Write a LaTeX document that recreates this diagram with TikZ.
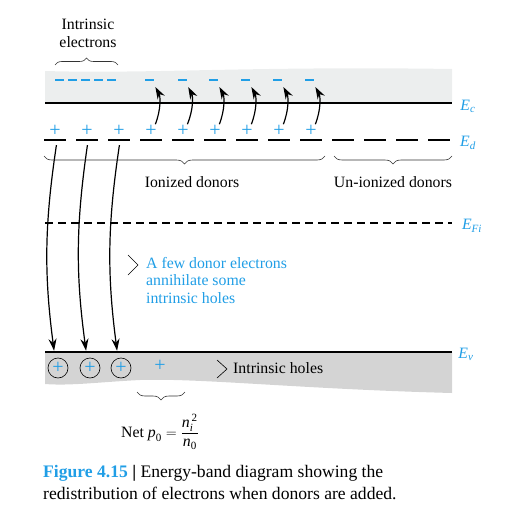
\documentclass[tikz,border=0pt]{standalone}
\usepackage{amsmath}
\usepackage{fontspec}
\setmainfont{Liberation Serif}
\usetikzlibrary{arrows.meta,decorations.pathreplacing,calc}
\definecolor{figblue}{RGB}{32,158,230}
\definecolor{cbgray}{RGB}{236,238,238}
\definecolor{vbgray}{RGB}{212,212,212}
\tikzset{
  lvl/.style={fill=black,inner sep=0pt,minimum width=22pt,minimum height=2pt},
  don/.style={text=figblue,inner sep=0pt,font=\fontsize{20}{22}\selectfont},
  elec/.style={fill=figblue,inner sep=0pt,minimum width=9pt,minimum height=1.4pt},
  hole/.style={circle,draw=black,line width=0.6pt,minimum size=20pt,inner sep=0pt,
    text=figblue,font=\fontsize{20}{22}\selectfont},
  jump/.style={line width=1.2pt,-{Stealth[length=12pt,width=8pt]}},
  brc/.style={decorate,decoration={brace,amplitude=8pt},line width=0.6pt,draw=black!80},
  lbl/.style={inner sep=0pt,font=\fontsize{15.8}{18}\selectfont},
  en/.style={text=figblue,inner sep=0pt,font=\fontsize{15.8}{18}\selectfont},
}
\newcommand{\iv}[1]{\textit{#1}}

\begin{document}
\begin{tikzpicture}[x=1pt,y=-1pt]
\useasboundingbox (0,0) rectangle (522,532);
% bands
\fill[cbgray] (45,71) .. controls (150,74) and (250,66) .. (452,69) -- (452,103) -- (45,103) -- cycle;
\fill[vbgray] (45,352) -- (452,352) -- (452,393) .. controls (300,389) and (200,378) .. (140,380)
  .. controls (100,382) and (70,386) .. (45,384) -- cycle;
\draw[line width=2pt] (45,103) -- (452,103);
\draw[line width=2pt] (45,352) -- (452,352);
\draw[line width=1.8pt,dash pattern=on 8pt off 5pt] (45,223) -- (452,223);

\node[en] (ec) at (468,106) {$\iv{E}_{\iv{c}}$};
\node[en] (ed) at (468,143) {$\iv{E}_{\iv{d}}$};
\node[en] (efi) at (472,226) {$\iv{E}_{\iv{Fi}}$};
\node[en] (ev) at (466,354) {$\iv{E}_{\iv{v}}$};

% donor level
\node[lvl] (e1) at (55,140) {};
\node[lvl] (e2) at (87,140) {};
\node[lvl] (e3) at (119,140) {};
\node[lvl] (e4) at (151,140) {};
\node[lvl] (e5) at (183,140) {};
\node[lvl] (e6) at (215,140) {};
\node[lvl] (e7) at (247,140) {};
\node[lvl] (e8) at (279,140) {};
\node[lvl] (e9) at (311,140) {};
\node[lvl] (e10) at (343,140) {};
\node[lvl] (e11) at (375,140) {};
\node[lvl] (e12) at (407,140) {};
\node[lvl] (e13) at (439,140) {};

\node[don] (d1) at (55,131) {+};
\node[don] (d2) at (87,131) {+};
\node[don] (d3) at (119,131) {+};
\node[don] (d4) at (151,131) {+};
\node[don] (d5) at (183,131) {+};
\node[don] (d6) at (215,131) {+};
\node[don] (d7) at (247,131) {+};
\node[don] (d8) at (279,131) {+};
\node[don] (d9) at (311,131) {+};

% electrons in the conduction band
\draw[figblue,line width=1.4pt,dash pattern=on 9pt off 4pt] (55,80) -- (118,80);
\node[elec] (m1) at (149,80) {};
\node[elec] (m2) at (182,80) {};
\node[elec] (m3) at (213,80) {};
\node[elec] (m4) at (245,80) {};
\node[elec] (m5) at (277,80) {};
\node[elec] (m6) at (309,80) {};

\draw[jump,shorten <=1pt,shorten >=7pt] ([xshift=4pt]d4.north) to[bend right=25] ([xshift=3pt]m1.south);
\draw[jump,shorten <=1pt,shorten >=7pt] ([xshift=4pt]d5.north) to[bend right=25] ([xshift=3pt]m2.south);
\draw[jump,shorten <=1pt,shorten >=7pt] ([xshift=4pt]d6.north) to[bend right=25] ([xshift=3pt]m3.south);
\draw[jump,shorten <=1pt,shorten >=7pt] ([xshift=4pt]d7.north) to[bend right=25] ([xshift=3pt]m4.south);
\draw[jump,shorten <=1pt,shorten >=7pt] ([xshift=4pt]d8.north) to[bend right=25] ([xshift=3pt]m5.south);
\draw[jump,shorten <=1pt,shorten >=7pt] ([xshift=4pt]d9.north) to[bend right=25] ([xshift=3pt]m6.south);

% holes in the valence band
\node[hole] (h1) at (58,368) {+};
\node[hole] (h2) at (90,368) {+};
\node[hole] (h3) at (121,368) {+};
\node[don] (h4) at (160,366) {+};

\draw[jump,shorten <=4pt,shorten >=7pt] ([xshift=2pt]e1.south) to[bend right=8] ([xshift=-3pt]h1.north);
\draw[jump,shorten <=4pt,shorten >=7pt] ([xshift=1pt]e2.south) to[bend right=8] ([xshift=-3pt]h2.north);
\draw[jump,shorten <=4pt,shorten >=7pt] ([xshift=1pt]e3.south) to[bend right=8] ([xshift=-3pt]h3.north);

% labels
\node[lbl,align=center] (ie) at (88,33) {Intrinsic\\electrons};
\draw[brc,decoration={amplitude=7pt}] (55,65) -- (118,65);

\draw[brc] (325,156) -- (44,156);
\node[lbl] (ion) at (192,182) {Ionized donors};
\draw[brc] (452,156) -- (334,156);
\node[lbl] (union) at (393,182) {Un-ionized donors};

\node[lbl,anchor=north west,align=left,text=figblue,font=\fontsize{15.8}{17.5}\selectfont] (ann) at (146,257)
  {A few donor electrons\\annihilate some\\intrinsic holes};
\draw[line width=0.6pt] ($(ann.north west)+(-18,-2)$) -- ++(10,10) -- ++(-10,10);

\node[lbl,anchor=west] (ih) at (233,368) {Intrinsic holes};
\draw[line width=0.6pt] ($(ih.west)+(-16,-8)$) -- ++(10,9) -- ++(-10,9);

\draw[brc] (185,392) -- (137,392);
\node[lbl] (netp) at (160,432) {Net $\iv{p}_{\textrm{0}} = \dfrac{\iv{n}_{\iv{i}}^{\,\textrm{2}}}{\iv{n}_{\textrm{0}}}$};

% caption
\node[anchor=west,align=left,inner sep=0pt,font=\fontsize{17.6}{22}\selectfont] (cap) at (43,483)
  {\textcolor{figblue}{\textbf{Figure 4.15}} \textbf{|} Energy-band diagram showing the\\
   redistribution of electrons when donors are added.};
\end{tikzpicture}
\end{document}
